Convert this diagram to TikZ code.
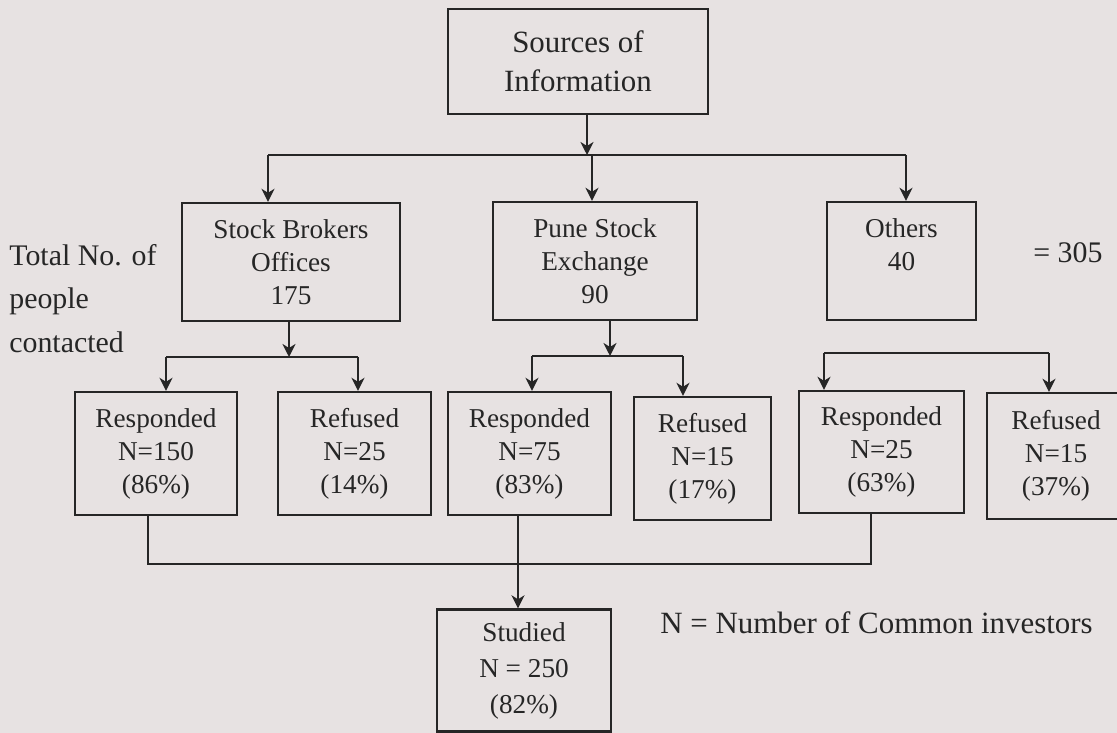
\documentclass[tikz,border=0pt]{standalone}
\usepackage{fontspec}
\setmainfont{Liberation Serif}
\usepackage{xcolor}
\usetikzlibrary{arrows.meta}
\definecolor{paper}{HTML}{E7E2E2}
\definecolor{ink}{HTML}{262626}

\begin{document}
\begin{tikzpicture}[
    x=0.2mm, y=-0.2mm,
    >={Stealth[length=2.6mm, width=2.6mm, inset=0.8mm]},
    box/.style={draw=ink, line width=1.35pt, align=center, inner sep=0pt, text=ink, font=\fontsize{15.5}{18.8}\selectfont},
    line/.style={draw=ink, line width=1.35pt},
    arrow/.style={line, ->},
    note/.style={text=ink, font=\fontsize{17}{24.7}\selectfont, inner sep=0pt}
]
\fill[paper] (0,0) rectangle (1117,733);
\useasboundingbox (0,0) rectangle (1117,733);
\clip (0,0) rectangle (1117,733);

% === TOP: Source ===
\node[box, minimum width=52mm, minimum height=21mm, font=\fontsize{17.6}{22}\selectfont] (src) at (578,61.5) {Sources of\\Information};

% === ROW 1: Sources ===
\node[box, minimum width=43.6mm, minimum height=23.6mm] (stock) at (291,262) {Stock Brokers\\Offices\\175};
\node[box, minimum width=40.8mm, minimum height=23.6mm] (pune) at (595,261) {Pune Stock\\Exchange\\90};
\node[box, minimum width=29.8mm, minimum height=23.6mm] (others) at (901.5,261) {Others\\40\\~};

\node[note, anchor=base west, align=left] (total) at (9,352) {Total No. of\\people\\contacted};
\node[note, anchor=base west] (sum) at (1033,263) {= 305};

% === ROW 2: Responses ===
\node[box, minimum width=32.4mm, minimum height=24.6mm] (resp1) at (156,453.5) {Responded\\N=150\\(86\%)};
\node[box, minimum width=30.6mm, minimum height=24.6mm] (ref1) at (354.5,453.5) {Refused\\N=25\\(14\%)};
\node[box, minimum width=32.6mm, minimum height=24.6mm] (resp2) at (529.5,453.5) {Responded\\N=75\\(83\%)};
\node[box, minimum width=27.4mm, minimum height=24.6mm] (ref2) at (702.5,458.5) {Refused\\N=15\\(17\%)};
\node[box, minimum width=33mm, minimum height=24.4mm] (resp3) at (881.5,452) {Responded\\N=25\\(63\%)};
\node[box, minimum width=27.6mm, minimum height=25.2mm] (ref3) at (1056,456) {Refused\\N=15\\(37\%)};

% === ROW 3: Studied ===
\node[box, minimum width=34.8mm, minimum height=24.4mm, font=\fontsize{15.5}{20.5}\selectfont] (studied) at (524,670.5) {Studied\\N = 250\\(82\%)};
\node[note, anchor=base west, font=\fontsize{17.6}{20}\selectfont] (legend) at (660,633) {N = Number of Common investors};

% === ARROWS ===
% Source to the three groups
\coordinate (jsrc) at (587,155);
\coordinate (jstock) at (268,155);
\coordinate (jpune) at (592,155);
\coordinate (jothers) at (906,155);
\draw[arrow] (src.south -| jsrc) -- (jsrc);
\draw[line] (jstock) -- (jothers);
\draw[arrow] (jstock) -- (jstock |- stock.north);
\draw[arrow] (jpune) -- (jpune |- pune.north);
\draw[arrow] (jothers) -- (jothers |- others.north);

% Stock brokers split
\coordinate (sb) at (289,357);
\coordinate (sbL) at (166,357);
\coordinate (sbR) at (358,357);
\draw[arrow] (stock.south -| sb) -- (sb);
\draw[line] (sbL) -- (sbR);
\draw[arrow] (sbL) -- (sbL |- resp1.north);
\draw[arrow] (sbR) -- (sbR |- ref1.north);

% Pune split
\coordinate (ps) at (610,356);
\coordinate (psL) at (532,356);
\coordinate (psR) at (683,356);
\draw[arrow] (pune.south -| ps) -- (ps);
\draw[line] (psL) -- (psR);
\draw[arrow] (psL) -- (psL |- resp2.north);
\draw[arrow] (psR) -- (psR |- ref2.north);

% Others split
\coordinate (osL) at (824,353);
\coordinate (osR) at (1049,353);
\draw[line] (osL) -- (osR);
\draw[arrow] (osL) -- (osL |- resp3.north);
\draw[arrow] (osR) -- (osR |- ref3.north);

% Responded to studied
\coordinate (bL) at (148,564);
\coordinate (bM) at (518,564);
\coordinate (bR) at (871,564);
\draw[line] (resp1.south -| bL) -- (bL) -- (bR) -- (resp3.south -| bR);
\draw[arrow] (resp2.south -| bM) -- (studied.north -| bM);

\end{tikzpicture}
\end{document}
